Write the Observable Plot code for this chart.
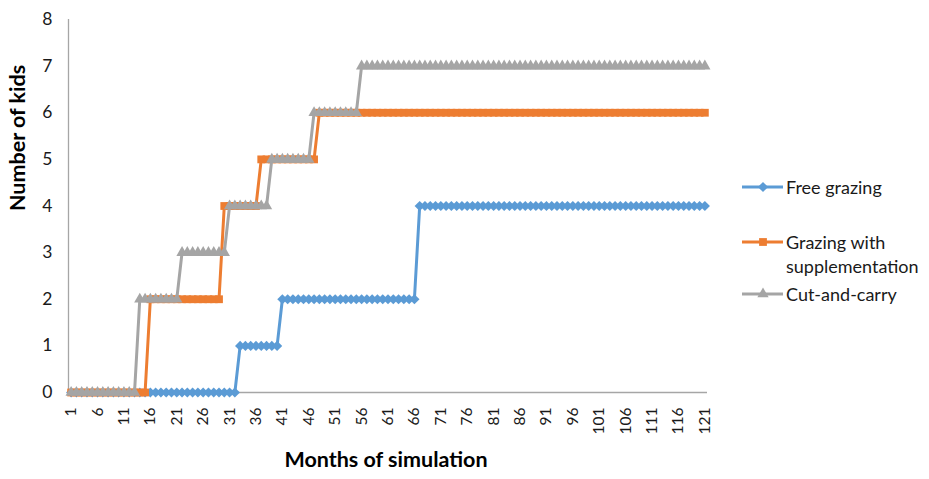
<!DOCTYPE html>
<html><head><meta charset="utf-8">
<script src="https://cdn.jsdelivr.net/npm/d3@7"></script>
<script src="https://cdn.jsdelivr.net/npm/@observablehq/plot@0.6"></script>
<style>
body{margin:0;background:#fff;font-family:Lato,"Open Sans",sans-serif;}
#wrap{position:relative;width:929px;height:479px;overflow:hidden;}
#legend{position:absolute;left:742px;top:0;font-size:18px;color:#1a1a1a;}
.item{position:absolute;left:0;white-space:nowrap;}
.item svg{position:absolute;left:0;top:0;}
.item span{position:absolute;left:44px;line-height:24px;}
</style></head><body><div id="wrap"><div id="legend"></div></div>
<script>
const months = d3.range(1, 122);
const seriesNames = ["Free grazing", "Grazing with supplementation", "Cut-and-carry"];
const freeGrazing = [0,0,0,0,0,0,0,0,0,0,0,0,0,0,0,0,0,0,0,0,0,0,0,0,0,0,0,0,0,0,0,0,
  1,1,1,1,1,1,1,1,
  2,2,2,2,2,2,2,2,2,2,2,2,2,2,2,2,2,2,2,2,2,2,2,2,2,2,
  4,4,4,4,4,4,4,4,4,4,4,4,4,4,4,4,4,4,4,4,4,4,4,4,4,4,4,4,4,4,4,4,4,4,4,4,4,4,4,4,4,4,4,4,4,4,4,4,4,4,4,4,4,4,4];
const supplementation = [0,0,0,0,0,0,0,0,0,0,0,0,0,0,0,
  2,2,2,2,2,2,2,2,2,2,2,2,2,2,
  4,4,4,4,4,4,4,
  5,5,5,5,5,5,5,5,5,5,5,
  6,6,6,6,6,6,6,6,6,6,6,6,6,6,6,6,6,6,6,6,6,6,6,6,6,6,6,6,6,6,6,6,6,6,6,6,6,6,6,6,6,6,6,6,6,6,6,6,6,6,6,6,6,6,6,6,6,6,6,6,6,6,6,6,6,6,6,6,6,6,6,6,6,6];
const cutAndCarry = [0,0,0,0,0,0,0,0,0,0,0,0,0,
  2,2,2,2,2,2,2,2,
  3,3,3,3,3,3,3,3,3,
  4,4,4,4,4,4,4,4,
  5,5,5,5,5,5,5,5,
  6,6,6,6,6,6,6,6,6,
  7,7,7,7,7,7,7,7,7,7,7,7,7,7,7,7,7,7,7,7,7,7,7,7,7,7,7,7,7,7,7,7,7,7,7,7,7,7,7,7,7,7,7,7,7,7,7,7,7,7,7,7,7,7,7,7,7,7,7,7,7,7,7,7,7,7];
const xTicks = [1,6,11,16,21,26,31,36,41,46,51,56,61,66,71,76,81,86,91,96,101,106,111,116,121];
const yTicks = [0,1,2,3,4,5,6,7,8];
const colors = ["#5B9BD5", "#ED7D31", "#A5A5A5"];
const symbols = ["diamond2", "square", "triangle"];
const radii = [4.6, 4.4, 4.2];

const allSeries = [freeGrazing, supplementation, cutAndCarry];
const rows = allSeries.map((vals, s) => months.map((m, i) => ({month: m, value: vals[i], s})));

const marks = [
  Plot.ruleY([0], {stroke: "#a6a6a6", strokeWidth: 1.3}),
  Plot.ruleX([0.5], {stroke: "#a6a6a6", strokeWidth: 1.3}),
  Plot.axisX({ticks: xTicks, tickSize: 0, tickRotate: -90, tickPadding: 15, fontSize: 15.5, tickFormat: d => String(d), label: null, fill: "#1a1a1a"}),
  Plot.axisY({ticks: yTicks, tickSize: 0, tickPadding: 16, fontSize: 17.5, label: null, fill: "#1a1a1a"})
];
rows.forEach((r, s) => {
  marks.push(Plot.line(r, {x: "month", y: "value", stroke: colors[s], strokeWidth: 3, curve: "linear"}));
  marks.push(Plot.dot(r, {x: "month", y: "value", fill: colors[s], symbol: symbols[s], r: radii[s]}));
});
marks.push(Plot.text(["Number of kids"], {frameAnchor: "left", dx: -50, dy: 5, rotate: -90, fontWeight: "bold", fontSize: 21.5, fill: "#000"}));
marks.push(Plot.text(["Months of simulation"], {frameAnchor: "bottom", dx: -2, dy: 74, fontWeight: "bold", fontSize: 21.5, fill: "#000"}));

const chart = Plot.plot({
  width: 929, height: 479,
  marginLeft: 68, marginRight: 222, marginTop: 19, marginBottom: 87,
  x: {type: "linear", domain: [0.5, 121.5]},
  y: {domain: [0, 8]},
  style: {fontFamily: "Lato, 'Open Sans', sans-serif", background: "#fff"},
  marks
});
document.getElementById("wrap").prepend(chart);

// legend
const legendRows = [
  {s: 0, top: 175, lines: ["Free grazing"]},
  {s: 1, top: 230, lines: ["Grazing with", "supplementation"]},
  {s: 2, top: 282, lines: ["Cut-and-carry"]}
];
const legend = d3.select("#legend");
legendRows.forEach(d => {
  const it = legend.append("div").attr("class", "item").style("top", d.top + "px");
  const svg = it.append("svg").attr("width", 44).attr("height", 24);
  svg.append("line").attr("x1", 0).attr("x2", 41).attr("y1", 12).attr("y2", 12)
    .attr("stroke", colors[d.s]).attr("stroke-width", 3);
  const sym = {diamond2: d3.symbolDiamond2, square: d3.symbolSquare, triangle: d3.symbolTriangle}[symbols[d.s]];
  svg.append("path").attr("d", d3.symbol(sym, Math.PI * radii[d.s] * radii[d.s])())
    .attr("transform", "translate(21,12)").attr("fill", colors[d.s]);
  it.append("span").html(d.lines.join("<br>"));
});
</script>
</body></html>
